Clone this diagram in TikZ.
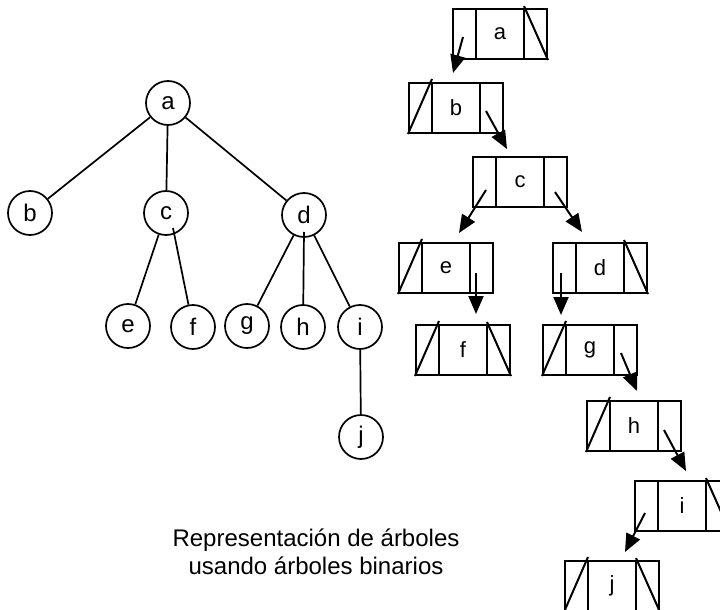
\documentclass[tikz,border=0pt]{standalone}
\usepackage{fontspec}
\setmainfont{Liberation Sans}
\usetikzlibrary{arrows.meta}

\tikzset{
  treenode/.style={circle,draw,line width=1.7pt,minimum size=44pt,inner sep=0pt,font=\fontsize{24}{28}\selectfont},
  cellbox/.style={rectangle,draw,line width=2pt,minimum width=94pt,minimum height=50pt,inner sep=0pt,font=\fontsize{22}{26}\selectfont},
  ptr/.style={line width=2pt,-{Triangle[length=18pt,width=15pt]}},
  nil/.style={line width=2pt},
  caption/.style={align=center,inner sep=0pt,font=\fontsize{24}{28}\selectfont},
}

\begin{document}
\begin{tikzpicture}[x=1pt,y=-1pt]
        \clip (0,0) rectangle (720,610);
        % general tree
        \node[treenode] (a) at (168,103) {a};
        \node[treenode] (b) at (30,213) {b};
        \node[treenode] (c) at (166,213) {c};
        \node[treenode] (d) at (304,215) {d};
        \node[treenode] (e) at (128,326) {e};
        \node[treenode] (f) at (193,327) {f};
        \node[treenode] (g) at (247,326) {g};
        \node[treenode] (h) at (303,327) {h};
        \node[treenode] (i) at (360,327) {i};
        \node[treenode] (j) at (361,437) {j};
        \foreach \p/\q in {a/b,a/c,a/d,c/e,d/g,d/i,i/j}
          \draw[line width=1.7pt] (\p) -- (\q);
        \draw[line width=1.7pt] ([xshift=7pt,yshift=-15pt]c.center) -- (f);
        \draw[line width=1.7pt] ([yshift=-17pt]d.center) -- (h);

        % binary version: left child / key / right sibling
        \node[cellbox] (la) at (500,34) {a};
        \node[cellbox] (lb) at (456,108) {b};
        \node[cellbox] (lc) at (520,182) {c};
        \node[cellbox] (le) at (446,268) {e};
        \node[cellbox] (ld) at (600,268) {d};
        \node[cellbox] (lf) at (463,350) {f};
        \node[cellbox] (lg) at (590,350) {g};
        \node[cellbox] (lh) at (634,426) {h};
        \node[cellbox] (li) at (682,506) {i};
        \node[cellbox] (lj) at (612,586) {j};
        \foreach \n in {la,lb,lc,le,ld,lf,lg,lh,li,lj}
          \draw[nil] ([xshift=24pt]\n.north west) -- ([xshift=24pt]\n.south west)
                     ([xshift=-24pt]\n.north east) -- ([xshift=-24pt]\n.south east);
        % null pointers
        \foreach \n in {lb,le,lf,lg,lh,lj}
          \draw[nil] (\n.south west) -- ([xshift=24pt,yshift=3pt]\n.north west);
        \foreach \n in {la,ld,lf,li,lj}
          \draw[nil] ([xshift=-24pt,yshift=2pt]\n.north east) -- (\n.south east);

        \draw[ptr] ([xshift=11pt,yshift=-29pt]la.north west) -- ([xshift=45pt,yshift=9pt]lb.north west);
        \draw[ptr] ([xshift=78pt,yshift=-29pt]lb.north west) -- ([xshift=35pt,yshift=7pt]lc.north west);
        \draw[ptr] ([xshift=14pt,yshift=-34pt]lc.north west) -- ([xshift=61pt,yshift=9pt]le.north west);
        \draw[ptr] ([xshift=83pt,yshift=-36pt]lc.north west) -- ([xshift=30pt,yshift=10pt]ld.north west);
        \draw[ptr] ([xshift=78pt,yshift=-31pt]le.north west) -- ([xshift=61pt,yshift=10pt]lf.north west);
        \draw[ptr] ([xshift=9pt,yshift=-31pt]ld.north west) -- ([xshift=19pt,yshift=9pt]lg.north west);
        \draw[ptr] ([xshift=79pt,yshift=-29pt]lg.north west) -- ([xshift=51pt,yshift=9pt]lh.north west);
        \draw[ptr] ([xshift=78pt,yshift=-30pt]lh.north west) -- ([xshift=52pt,yshift=9pt]li.north west);
        \draw[ptr] ([xshift=11pt,yshift=-33pt]li.north west) -- ([xshift=61pt,yshift=8pt]lj.north west);

        \node[caption] (cap) at (316,552) {Representación de árboles\\usando árboles binarios};
\end{tikzpicture}
\end{document}
